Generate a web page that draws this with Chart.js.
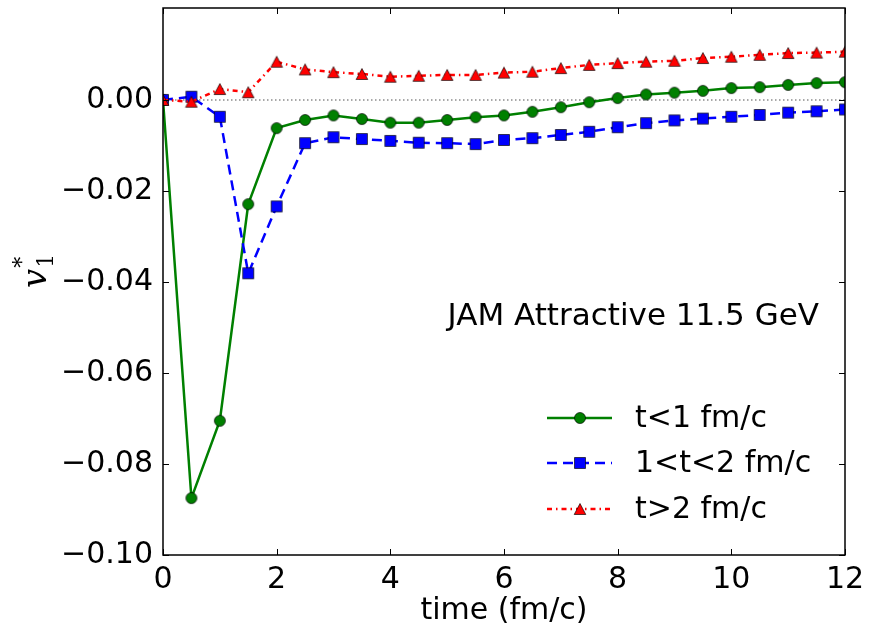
<!DOCTYPE html>
<html>
<head>
<meta charset="utf-8">
<title>v1* vs time</title>
<script src="https://cdn.jsdelivr.net/npm/chart.js@4.4.1/dist/chart.umd.min.js"></script>
<style>
  html, body { margin: 0; padding: 0; background: #fff; }
  #wrap { width: 877px; height: 629px; }
</style>
</head>
<body>
<div id="wrap"><canvas id="v1-chart" width="877" height="629"></canvas></div>
<script>
// time steps (fm/c)
const TIME = [0, 0.5, 1, 1.5, 2, 2.5, 3, 3.5, 4, 4.5, 5, 5.5, 6,
              6.5, 7, 7.5, 8, 8.5, 9, 9.5, 10, 10.5, 11, 11.5, 12];

// v1* for particles produced at t<1, 1<t<2 and t>2 fm/c
const V1_EARLY = [0, -0.0875, -0.0705, -0.0229, -0.0062, -0.0044, -0.0034, -0.0042, -0.0050,
                  -0.0050, -0.0044, -0.0038, -0.0034, -0.0026, -0.0016, -0.0005, 0.0004,
                  0.0012, 0.0016, 0.0020, 0.0026, 0.0028, 0.0033, 0.0037, 0.0039];
const V1_MID   = [0, 0.0007, -0.0037, -0.0381, -0.0234, -0.0095, -0.0082, -0.0086, -0.0090,
                  -0.0094, -0.0095, -0.0097, -0.0088, -0.0084, -0.0077, -0.0070, -0.0060,
                  -0.0051, -0.0045, -0.0041, -0.0037, -0.0033, -0.0028, -0.0025, -0.0021];
const V1_LATE  = [0, -0.0004, 0.0024, 0.0017, 0.0084, 0.0067, 0.0061, 0.0057, 0.0051,
                  0.0053, 0.0055, 0.0055, 0.0060, 0.0062, 0.0070, 0.0077, 0.0081,
                  0.0084, 0.0086, 0.0092, 0.0095, 0.0099, 0.0103, 0.0104, 0.0106];

const SERIES_LABELS = ['t<1 fm/c', '1<t<2 fm/c', 't>2 fm/c'];
const NOTE_TEXT = 'JAM Attractive 11.5 GeV';
const X_TICKS = [0, 2, 4, 6, 8, 10, 12];
const Y_TICKS = [-0.10, -0.08, -0.06, -0.04, -0.02, 0.00];

const FONT = '"DejaVu Sans", "Liberation Sans", sans-serif';

// ---- marker sprites (centered on their bounding box, dark edge) ----
function sprite(kind, fill) {
  const c = document.createElement('canvas');
  c.width = 14; c.height = 14;
  const g = c.getContext('2d');
  g.fillStyle = fill;
  g.strokeStyle = 'rgba(0,0,0,0.65)';
  g.lineWidth = 1;
  g.beginPath();
  if (kind === 'circle') {
    g.arc(7, 7, 5.5, 0, Math.PI * 2);
  } else if (kind === 'square') {
    g.rect(1.5, 1.5, 11, 11);
  } else {
    g.moveTo(7, 1.5);
    g.lineTo(12.8, 12.5);
    g.lineTo(1.2, 12.5);
    g.closePath();
  }
  g.fill();
  g.stroke();
  return c;
}

const STYLES = [
  { color: '#008000', dash: [],             marker: sprite('circle', '#008000') },
  { color: '#0000ff', dash: [10, 6],        marker: sprite('square', '#0000ff') },
  { color: '#ff0000', dash: [5, 4, 1.5, 4], marker: sprite('triangle', '#ff0000') }
];

function series(i, values) {
  const s = STYLES[i];
  return {
    label: SERIES_LABELS[i],
    data: TIME.map((t, k) => ({ x: t, y: values[k] })),
    showLine: true,
    borderColor: s.color,
    borderWidth: 2.5,
    borderDash: s.dash,
    backgroundColor: s.color,
    pointStyle: s.marker,
    pointRadius: 5,
    pointHoverRadius: 5,
    tension: 0,
    clip: 0,
    order: 3 - i   // later series on top
  };
}

// frame, inward ticks, zero line, note, legend, y title
const decorations = {
  id: 'decorations',
  beforeDatasetsDraw(chart) {
    const { ctx, chartArea: a, scales: { y } } = chart;
    const y0 = y.getPixelForValue(0);
    ctx.save();
    ctx.strokeStyle = '#8c8c8c';
    ctx.lineWidth = 1.5;
    ctx.setLineDash([1.5, 2.5]);
    ctx.beginPath();
    ctx.moveTo(a.left, y0);
    ctx.lineTo(a.right, y0);
    ctx.stroke();
    ctx.restore();
  },
  afterDatasetsDraw(chart) {
    const { ctx, chartArea: a, scales: { x, y } } = chart;
    ctx.save();
    ctx.strokeStyle = '#000';
    ctx.lineWidth = 1.5;
    ctx.strokeRect(a.left, a.top, a.right - a.left, a.bottom - a.top);
    ctx.lineWidth = 1;
    const TL = 6;
    ctx.beginPath();
    X_TICKS.forEach(v => {
      const px = Math.round(x.getPixelForValue(v)) + 0.5;
      ctx.moveTo(px, a.bottom); ctx.lineTo(px, a.bottom - TL);
      ctx.moveTo(px, a.top);    ctx.lineTo(px, a.top + TL);
    });
    Y_TICKS.forEach(v => {
      const py = Math.round(y.getPixelForValue(v)) + 0.5;
      ctx.moveTo(a.left, py);  ctx.lineTo(a.left + TL, py);
      ctx.moveTo(a.right, py); ctx.lineTo(a.right - TL, py);
    });
    ctx.stroke();

    // note
    ctx.fillStyle = '#000';
    ctx.font = '31px ' + FONT;
    ctx.textAlign = 'right';
    ctx.textBaseline = 'middle';
    ctx.fillText(NOTE_TEXT, 819, 317);

    // legend
    const rows = [418, 463, 509];
    STYLES.forEach((s, i) => {
      const ry = rows[i];
      ctx.save();
      ctx.strokeStyle = s.color;
      ctx.lineWidth = 2.5;
      ctx.setLineDash(s.dash);
      ctx.beginPath();
      ctx.moveTo(547, ry);
      ctx.lineTo(612, ry);
      ctx.stroke();
      ctx.restore();
      ctx.drawImage(s.marker, 580 - 7, ry - 7);
      ctx.textAlign = 'left';
      ctx.textBaseline = 'middle';
      ctx.fillStyle = '#000';
      ctx.font = '30px ' + FONT;
      ctx.fillText(SERIES_LABELS[i], 635, ry + 1);
    });

    // y title: v_1^*
    ctx.translate(46, 272);
    ctx.rotate(-Math.PI / 2);
    ctx.textAlign = 'left';
    ctx.textBaseline = 'alphabetic';
    ctx.font = 'italic 34px "DejaVu Serif", "Liberation Serif", serif';
    const vw = ctx.measureText('v').width;
    const x0 = -16;
    ctx.fillText('v', x0, 0);
    ctx.font = '22px "DejaVu Serif", "Liberation Serif", serif';
    ctx.fillText('1', x0 + vw + 1, 7);
    ctx.fillText('*', x0 + vw + 1, -17);
    ctx.restore();
  }
};

new Chart(document.getElementById('v1-chart'), {
  type: 'scatter',
  data: {
    datasets: [series(0, V1_EARLY), series(1, V1_MID), series(2, V1_LATE)]
  },
  options: {
    responsive: false,
    animation: false,
    layout: { padding: { top: 8, right: 32, left: 0, bottom: 0 } },
    plugins: { legend: { display: false }, tooltip: { enabled: false } },
    scales: {
      x: {
        type: 'linear', min: 0, max: 12,
        afterBuildTicks: s => { s.ticks = X_TICKS.map(v => ({ value: v })); },
        afterFit: s => { s.height = 74; s.paddingLeft = 0; s.paddingRight = 0; },
        grid: { display: false, drawTicks: false },
        border: { display: false },
        ticks: {
          color: '#000', padding: 7, maxRotation: 0, autoSkip: false,
          font: { family: FONT, size: 30 },
          callback: v => String(v)
        },
        title: {
          display: true, text: 'time (fm/c)', color: '#000',
          font: { family: FONT, size: 30 },
          padding: { top: 0, bottom: 0 }
        }
      },
      y: {
        type: 'linear', min: -0.1, max: 0.0202,
        afterBuildTicks: s => { s.ticks = Y_TICKS.map(v => ({ value: v })); },
        afterFit: s => { s.width = 163; s.paddingTop = 0; s.paddingBottom = 0; },
        grid: { display: false, drawTicks: false },
        border: { display: false },
        ticks: {
          color: '#000', padding: 10, autoSkip: false,
          font: { family: FONT, size: 30 },
          callback: v => v.toFixed(2).replace('-', '\u2212')
        }
      }
    }
  },
  plugins: [decorations]
});
</script>
</body>
</html>
